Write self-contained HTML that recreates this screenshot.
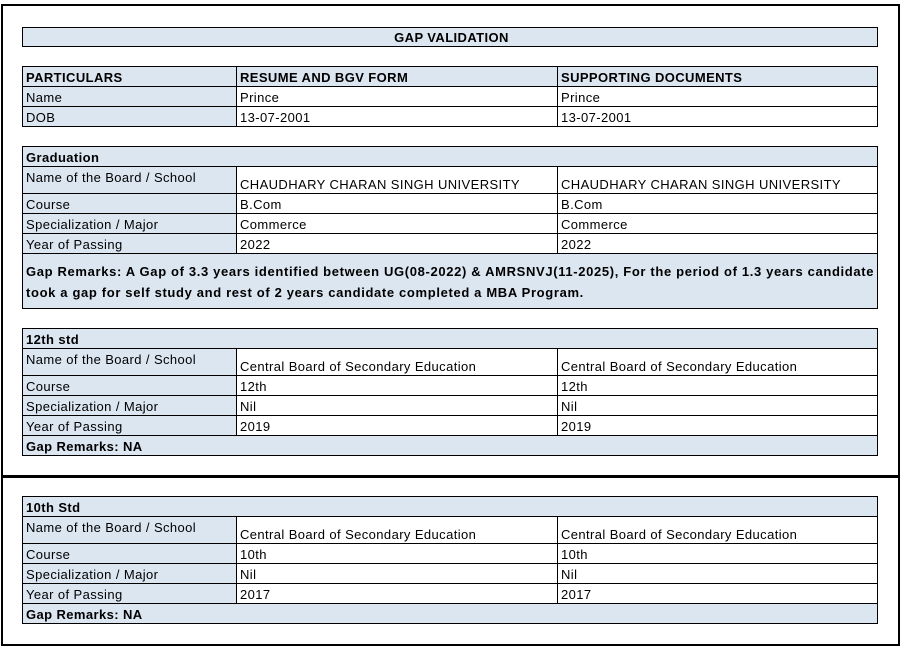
<!DOCTYPE html>
<html><head><style>
body{margin:0;width:901px;height:647px;background:#fff;position:relative;font-family:"Liberation Sans",sans-serif;font-size:13px;letter-spacing:0.4px;color:#000;overflow:hidden}
.frame{position:absolute;border:2px solid #000}
table{position:absolute;left:22px;border-collapse:collapse;table-layout:fixed;width:856px}
td{border:1px solid #000;padding:0 0 1px 3px;white-space:nowrap;overflow:hidden;vertical-align:bottom;line-height:15px}
.b{background:#dce6f1}
.h{font-weight:bold}
.c1{width:214px}.c2{width:321px}
</style></head><body>
<div class="frame" style="left:1px;top:4px;width:895px;height:470px"></div>
<div class="frame" style="left:1px;top:475px;width:895px;height:167px"></div>

<table style="top:27px"><tr style="height:19px"><td class="b h" style="text-align:center">GAP VALIDATION</td></tr></table>

<table style="top:66px">
<colgroup><col class="c1"><col class="c2"><col></colgroup>
<tr style="height:20px" class="h"><td class="b">PARTICULARS</td><td class="b">RESUME AND BGV FORM</td><td class="b">SUPPORTING DOCUMENTS</td></tr>
<tr style="height:20px"><td class="b">Name</td><td>Prince</td><td>Prince</td></tr>
<tr style="height:20px"><td class="b">DOB</td><td>13-07-2001</td><td>13-07-2001</td></tr>
</table>

<table style="top:146px">
<colgroup><col class="c1"><col class="c2"><col></colgroup>
<tr style="height:20px"><td class="b h" colspan="3">Graduation</td></tr>
<tr style="height:27px"><td class="b" style="vertical-align:top;padding-top:3px">Name of the Board / School</td><td>CHAUDHARY CHARAN SINGH UNIVERSITY</td><td>CHAUDHARY CHARAN SINGH UNIVERSITY</td></tr>
<tr style="height:20px"><td class="b">Course</td><td>B.Com</td><td>B.Com</td></tr>
<tr style="height:20px"><td class="b">Specialization / Major</td><td>Commerce</td><td>Commerce</td></tr>
<tr style="height:20px"><td class="b">Year of Passing</td><td>2022</td><td>2022</td></tr>
<tr style="height:55px"><td class="b h" colspan="3" style="vertical-align:top;padding-top:7px;line-height:21px;font-size:13px;letter-spacing:0.65px">Gap Remarks: A Gap of 3.3 years identified between UG(08-2022) &amp; AMRSNVJ(11-2025), For the period of 1.3 years candidate<br>took a gap for self study and rest of 2 years candidate completed a MBA Program.</td></tr>
</table>

<table style="top:328px">
<colgroup><col class="c1"><col class="c2"><col></colgroup>
<tr style="height:20px"><td class="b h" colspan="3">12th std</td></tr>
<tr style="height:27px"><td class="b" style="vertical-align:top;padding-top:3px">Name of the Board / School</td><td>Central Board of Secondary Education</td><td>Central Board of Secondary Education</td></tr>
<tr style="height:20px"><td class="b">Course</td><td>12th</td><td>12th</td></tr>
<tr style="height:20px"><td class="b">Specialization / Major</td><td>Nil</td><td>Nil</td></tr>
<tr style="height:20px"><td class="b">Year of Passing</td><td>2019</td><td>2019</td></tr>
<tr style="height:20px"><td class="b h" colspan="3">Gap Remarks: NA</td></tr>
</table>

<table style="top:496px">
<colgroup><col class="c1"><col class="c2"><col></colgroup>
<tr style="height:20px"><td class="b h" colspan="3">10th Std</td></tr>
<tr style="height:27px"><td class="b" style="vertical-align:top;padding-top:3px">Name of the Board / School</td><td>Central Board of Secondary Education</td><td>Central Board of Secondary Education</td></tr>
<tr style="height:20px"><td class="b">Course</td><td>10th</td><td>10th</td></tr>
<tr style="height:20px"><td class="b">Specialization / Major</td><td>Nil</td><td>Nil</td></tr>
<tr style="height:20px"><td class="b">Year of Passing</td><td>2017</td><td>2017</td></tr>
<tr style="height:20px"><td class="b h" colspan="3">Gap Remarks: NA</td></tr>
</table>
</body></html>
